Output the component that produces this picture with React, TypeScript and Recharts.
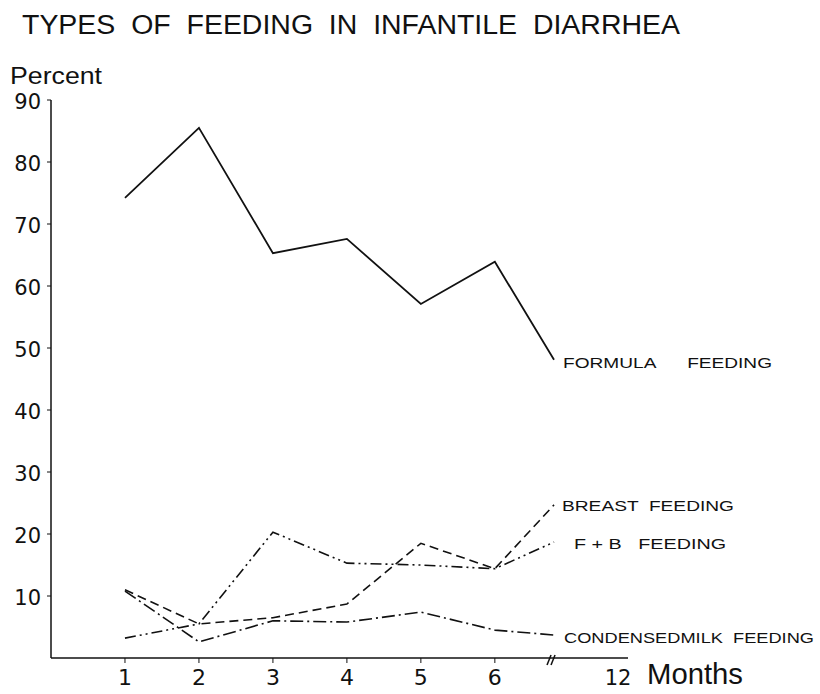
import { Customized, Line, LineChart, XAxis, YAxis } from "recharts";

const months = [1, 2, 3, 4, 5, 6, 12];
const formula = [74.2, 85.5, 65.3, 67.6, 57.1, 63.9, 48.1];
const breast = [11, 5.5, 6.5, 8.7, 18.5, 14.4, 24.7];
const fPlusB = [3.2, 5.5, 20.3, 15.3, 15, 14.4, 18.7];
const condensed = [10.8, 2.6, 6, 5.8, 7.4, 4.5, 3.7];
const yTicks = [10, 20, 30, 40, 50, 60, 70, 80, 90];

// the axis is broken after month 6, month 12 sits just past the break
const BREAK_POS = 6.8;
const axisPos = (m: number) => (m <= 6 ? m : BREAK_POS);

const data = months.map((m, i) => ({
  pos: axisPos(m),
  month: m,
  formula: formula[i],
  breast: breast[i],
  fPlusB: fPlusB[i],
  condensed: condensed[i],
}));

const font = "'Liberation Sans', Arial, sans-serif";
const numFont = "'DejaVu Sans', sans-serif";
const ink = "#111";

const endLabel = (text: string, dx: number, dy: number, len: number) => (props: any) => {
  if (props.index !== data.length - 1) return null;
  return (
    <text
      x={props.x + dx}
      y={props.y + dy}
      fontSize={15}
      fontFamily={font}
      fill={ink}
      textLength={len}
      lengthAdjust="spacingAndGlyphs"
      style={{ whiteSpace: "pre" }}
    >
      {text}
    </text>
  );
};

const XTick = (props: any) => {
  const { x, y, payload } = props;
  const d = data.find((r) => r.pos === payload.value);
  if (!d) return null;
  if (d.month === 12) {
    return (
      <g>
        <line x1={x - 7} y1={y - 1} x2={x - 3} y2={y - 11} stroke={ink} strokeWidth={1.5} />
        <line x1={x - 3} y1={y - 1} x2={x + 1} y2={y - 11} stroke={ink} strokeWidth={1.5} />
        <text x={x + 64} y={y + 19} fontSize={21} fontFamily={numFont} fill={ink} textAnchor="middle">
          12
        </text>
      </g>
    );
  }
  return (
    <g>
      <line x1={x} y1={y - 8} x2={x} y2={y - 3} stroke={ink} />
      <text x={x} y={y + 19} fontSize={22} fontFamily={numFont} fill={ink} textAnchor="middle">
        {d.month}
      </text>
    </g>
  );
};

const YTick = (props: any) => {
  const { x, y, payload } = props;
  return (
    <text x={x} y={y + 9} fontSize={21} fontFamily={numFont} fill={ink} textAnchor="end">
      {payload.value}
    </text>
  );
};

const Texts = () => (
  <g fontFamily={font} fill={ink}>
    <text
      x={22}
      y={34}
      fontSize={27}
      textLength={658}
      lengthAdjust="spacingAndGlyphs"
      style={{ whiteSpace: "pre" }}
    >
      TYPES  OF  FEEDING  IN  INFANTILE  DIARRHEA
    </text>
    <text x={10} y={84} fontSize={23} textLength={92} lengthAdjust="spacingAndGlyphs">
      Percent
    </text>
    <text x={647} y={684} fontSize={29} textLength={96} lengthAdjust="spacingAndGlyphs">
      Months
    </text>
  </g>
);

export default function App() {
  return (
    <div style={{ position: "absolute", left: 0, top: 0, background: "#fff" }}>
      <LineChart
        width={820}
        height={694}
        data={data}
        margin={{ top: 100, right: 192, left: 11, bottom: 6 }}
      >
        <XAxis
          dataKey="pos"
          type="number"
          domain={[0, 7.8]}
          ticks={data.map((d) => d.pos)}
          tick={<XTick />}
          tickLine={false}
          axisLine={{ stroke: ink, strokeWidth: 1.5 }}
          height={30}
        />
        <YAxis
          type="number"
          domain={[0, 90]}
          ticks={yTicks}
          width={40}
          tickSize={4}
          tickMargin={6}
          tickLine={{ stroke: ink }}
          axisLine={{ stroke: ink, strokeWidth: 1.5 }}
          tick={<YTick />}
        />
        <Line
          dataKey="formula"
          stroke={ink}
          strokeWidth={1.8}
          dot={false}
          isAnimationActive={false}
          label={endLabel("FORMULA      FEEDING", 9, 8, 209)}
        />
        <Line
          dataKey="breast"
          stroke={ink}
          strokeWidth={1.6}
          strokeDasharray="9 5"
          dot={false}
          isAnimationActive={false}
          label={endLabel("BREAST  FEEDING", 8, 6, 172)}
        />
        <Line
          dataKey="fPlusB"
          stroke={ink}
          strokeWidth={1.6}
          strokeDasharray="11 4 2 4 2 4"
          dot={false}
          isAnimationActive={false}
          label={endLabel("F + B   FEEDING", 20, 7, 152)}
        />
        <Line
          dataKey="condensed"
          stroke={ink}
          strokeWidth={1.6}
          strokeDasharray="13 4 2 4"
          dot={false}
          isAnimationActive={false}
          label={endLabel("CONDENSEDMILK  FEEDING", 10, 8, 250)}
        />
        <Customized component={Texts} />
      </LineChart>
    </div>
  );
}
